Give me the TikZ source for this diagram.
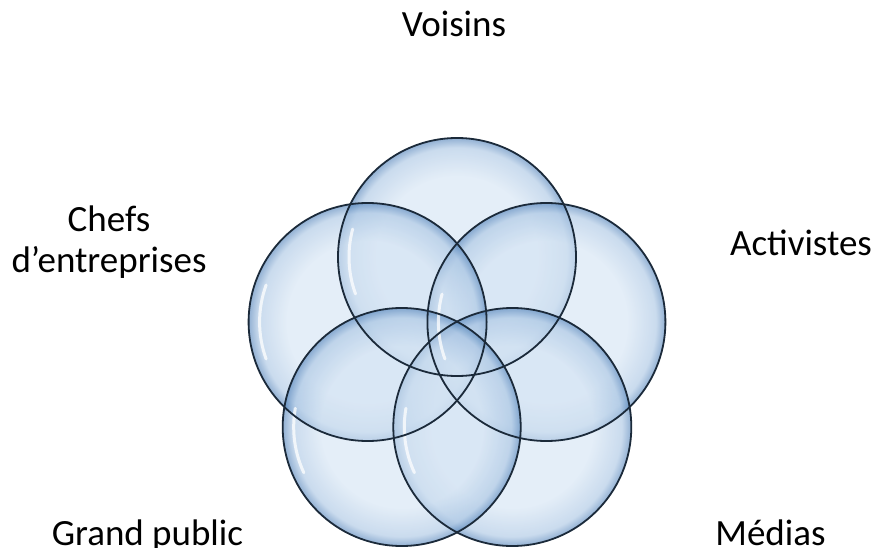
\documentclass[tikz,border=0pt]{standalone}
\usepackage{fontspec}
\setmainfont{Carlito}
\usetikzlibrary{positioning}
\definecolor{bubin}{HTML}{D3E3F3}
\definecolor{bubmid}{HTML}{A9C5E3}
\definecolor{bubrim}{HTML}{4F80B8}
\definecolor{bubedge}{HTML}{1B2A3A}
\pgfdeclareradialshading{bubble}{\pgfpoint{0bp}{0bp}}{color(0bp)=(bubin); color(17bp)=(bubin); color(23bp)=(bubmid); color(25bp)=(bubrim); color(50bp)=(bubrim)}
\begin{document}
\begin{tikzpicture}[
  x=1pt, y=-1pt,
  lbl/.style={font=\fontsize{37}{40}\selectfont, anchor=base, align=center, inner sep=0pt},
  bub/.style={shading=bubble, fill opacity=0.62},
  rim/.style={draw=bubedge, line width=1.8pt},
  gloss/.style={draw=white, line width=3pt, line cap=round, opacity=0.75}]
\useasboundingbox (0,0) rectangle (878,548);
% centres des bulles
\coordinate (vo) at (457,257);
\coordinate (ch) at (367.6,322);
\coordinate (ac) at (546.4,322);
\coordinate (gp) at (401.7,427);
\coordinate (me) at (512.3,427);
\shade[bub] (vo) circle[radius=119];
\shade[bub] (ac) circle[radius=119];
\shade[bub] (ch) circle[radius=119];
\shade[bub] (me) circle[radius=119];
\shade[bub] (gp) circle[radius=119];
\draw[gloss] ([shift={(160:108)}]vo) arc[start angle=160, end angle=195, radius=108];
\draw[gloss] ([shift={(160:108)}]ch) arc[start angle=160, end angle=200, radius=108];
\draw[gloss] ([shift={(160:108)}]ac) arc[start angle=160, end angle=195, radius=108];
\draw[gloss] ([shift={(155:108)}]gp) arc[start angle=155, end angle=190, radius=108];
\draw[gloss] ([shift={(155:108)}]me) arc[start angle=155, end angle=190, radius=108];
\draw[rim] (vo) circle[radius=119];
\draw[rim] (ac) circle[radius=119];
\draw[rim] (ch) circle[radius=119];
\draw[rim] (me) circle[radius=119];
\draw[rim] (gp) circle[radius=119];
% libellés
\node[lbl] (tvo) at (454,37) {Voisins};
\node[lbl] (tch) at (109,272) {Chefs\\d’entreprises};
\node[lbl] (tac) at (801,255) {Activistes};
\node[lbl] (tgp) at (147.5,545) {Grand public};
\node[lbl] (tme) at (770.5,545) {Médias};
\end{tikzpicture}
\end{document}
